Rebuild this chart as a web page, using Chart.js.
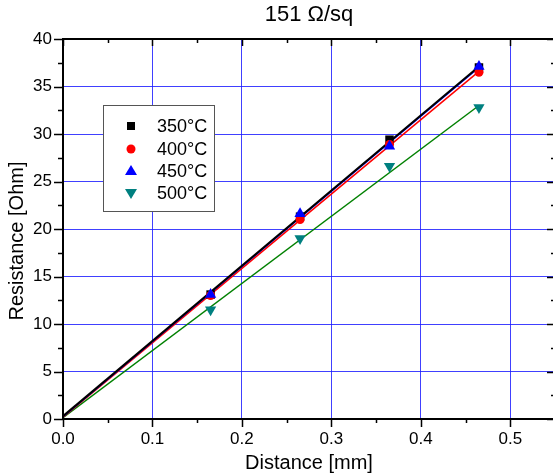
<!DOCTYPE html>
<html>
<head>
<meta charset="utf-8">
<script src="https://cdn.jsdelivr.net/npm/chart.js@4"></script>
<style>
  html,body{margin:0;padding:0;background:#fff;overflow:hidden}
  canvas{display:block}
</style>
</head>
<body>
<canvas id="c" width="555" height="473"></canvas>
<script>
const FONT = '"Liberation Sans", Arial, sans-serif';

// data
const distance = [0.165, 0.265, 0.365, 0.465];
const r350 = [13.1, 21.3, 29.4, 37.0];
const r400 = [13.0, 21.0, 28.9, 36.5];
const r450 = [13.1, 21.6, 28.7, 37.1];
const r500 = [11.5, 19.0, 26.6, 32.8];

// fitted lines (start / end)
const fitX = [0, 0.465];
const fit350 = [0.3, 37.1];
const fit400 = [0.2, 36.6];
const fit450 = [0.25, 37.0];
const fit500 = [0.15, 33.0];

const legendLabels = ['350°C','400°C','450°C','500°C'];
const xTicks = [0, 0.1, 0.2, 0.3, 0.4, 0.5];

function pts(xs, ys){ return xs.map((x,i)=>({x:x, y:ys[i]})) }

function markerSet(label, ys, color, style, radius, rot, order){
  return {type:'scatter', label, data: pts(distance, ys), backgroundColor: color, borderColor: color,
    pointStyle: style, pointRadius: radius, pointRotation: rot, borderWidth: 0, showLine:false, order};
}
function fitSet(ys, color, width, order){
  return {type:'line', data: pts(fitX, ys), borderColor: color, borderWidth: width, pointRadius: 0,
    fill:false, tension:0, order};
}

const datasets = [
  markerSet(legendLabels[0], r350, '#000000', 'rect', 6, 0, 3),
  markerSet(legendLabels[1], r400, '#ff0000', 'circle', 4.5, 0, 2),
  markerSet(legendLabels[2], r450, '#0000ff', 'triangle', 6.5, 0, 1),
  markerSet(legendLabels[3], r500, '#008080', 'triangle', 6.5, 180, 0),
  fitSet(fit350, '#000000', 2, 4),
  fitSet(fit450, '#0000ff', 1.5, 5),
  fitSet(fit400, '#ff0000', 1.5, 6),
  fitSet(fit500, '#008000', 1.5, 7)
];

// frame, minor ticks, legend box and y title
const decor = {
  id:'decor',
  afterDraw(chart){
    const {ctx, chartArea:a, scales:{x, y}} = chart;
    ctx.save();
    ctx.strokeStyle = '#000'; ctx.lineWidth = 2;
    ctx.strokeRect(a.left, a.top, a.right - a.left, a.bottom - a.top);
    ctx.lineWidth = 1.5;
    ctx.beginPath();
    for(let i=0;i<=11;i++){
      const px = Math.round(x.getPixelForValue(i*0.05)) + 0.5;
      const big = i%2===0;
      ctx.moveTo(px, a.bottom); ctx.lineTo(px, a.bottom + (big?8:4));
      ctx.moveTo(px, a.top); ctx.lineTo(px, a.top + (big?7:4));
    }
    for(let i=0;i<=16;i++){
      const py = Math.round(y.getPixelForValue(i*2.5)) + 0.5;
      const big = i%2===0;
      ctx.moveTo(a.left, py); ctx.lineTo(a.left - (big?9:5), py);
      ctx.moveTo(a.right, py); ctx.lineTo(a.right - (big?8:4), py);
    }
    ctx.stroke();

    // legend
    ctx.fillStyle = '#fff'; ctx.strokeStyle = '#555'; ctx.lineWidth = 1;
    ctx.fillRect(103.5, 105.5, 111, 106);
    ctx.strokeRect(103.5, 105.5, 111, 106);
    const rows = [126, 149, 171, 193];
    ctx.font = '18px ' + FONT; ctx.textBaseline = 'middle'; ctx.textAlign = 'left';
    rows.forEach((ry, i)=>{
      const d = chart.data.datasets[i];
      ctx.fillStyle = d.backgroundColor;
      ctx.beginPath();
      if(d.pointStyle==='rect'){ ctx.rect(127, ry-4, 8, 8); }
      else if(d.pointStyle==='circle'){ ctx.arc(131, ry, 4.5, 0, Math.PI*2); }
      else if(d.pointRotation===180){ ctx.moveTo(125, ry-4); ctx.lineTo(137, ry-4); ctx.lineTo(131, ry+6); }
      else { ctx.moveTo(131, ry-6); ctx.lineTo(137, ry+4); ctx.lineTo(125, ry+4); }
      ctx.fill();
      ctx.fillStyle = '#000';
      ctx.fillText(d.label, 157, ry+1);
    });

    // y axis title
    ctx.save();
    ctx.translate(17, 241); ctx.rotate(-Math.PI/2);
    ctx.textAlign = 'center'; ctx.textBaseline = 'middle';
    ctx.font = '20px ' + FONT; ctx.fillStyle = '#000';
    ctx.fillText('Resistance [Ohm]', 0, 0);
    ctx.restore();
    ctx.restore();
  }
};

new Chart(document.getElementById('c'), {
  type:'scatter',
  data:{datasets},
  plugins:[decor],
  options:{
    responsive:false, animation:false, devicePixelRatio:1,
    layout:{padding:0, autoPadding:false},
    plugins:{
      legend:{display:false}, tooltip:{enabled:false},
      title:{display:true, text:'151 Ω/sq', fullSize:false, color:'#000',
        font:{family:FONT, size:22, weight:'normal', lineHeight:1.2}, padding:{top:2, bottom:10.6}}
    },
    scales:{
      x:{type:'linear', min:0, max:0.55,
        afterFit(s){ s.height = 54; s.paddingLeft = 0; s.paddingRight = 0 },
        afterBuildTicks(s){ s.ticks = xTicks.map(v=>({value:v})) },
        ticks:{color:'#000', padding:10, maxRotation:0, font:{family:FONT, size:17}, callback:v=>Number(v).toFixed(1)},
        grid:{color:'rgba(30,30,255,0.85)', lineWidth:1, drawTicks:false},
        border:{display:false},
        title:{display:true, text:'Distance [mm]', color:'#000', padding:0, font:{family:FONT, size:20, lineHeight:1}}
      },
      y:{type:'linear', min:0, max:40,
        afterFit(s){ s.width = 63; s.paddingTop = 0; s.paddingBottom = 0 },
        ticks:{stepSize:5, color:'#000', padding:11, font:{family:FONT, size:17}},
        grid:{color:'rgba(30,30,255,0.85)', lineWidth:1, drawTicks:false},
        border:{display:false}
      }
    }
  }
});
</script>
</body>
</html>
